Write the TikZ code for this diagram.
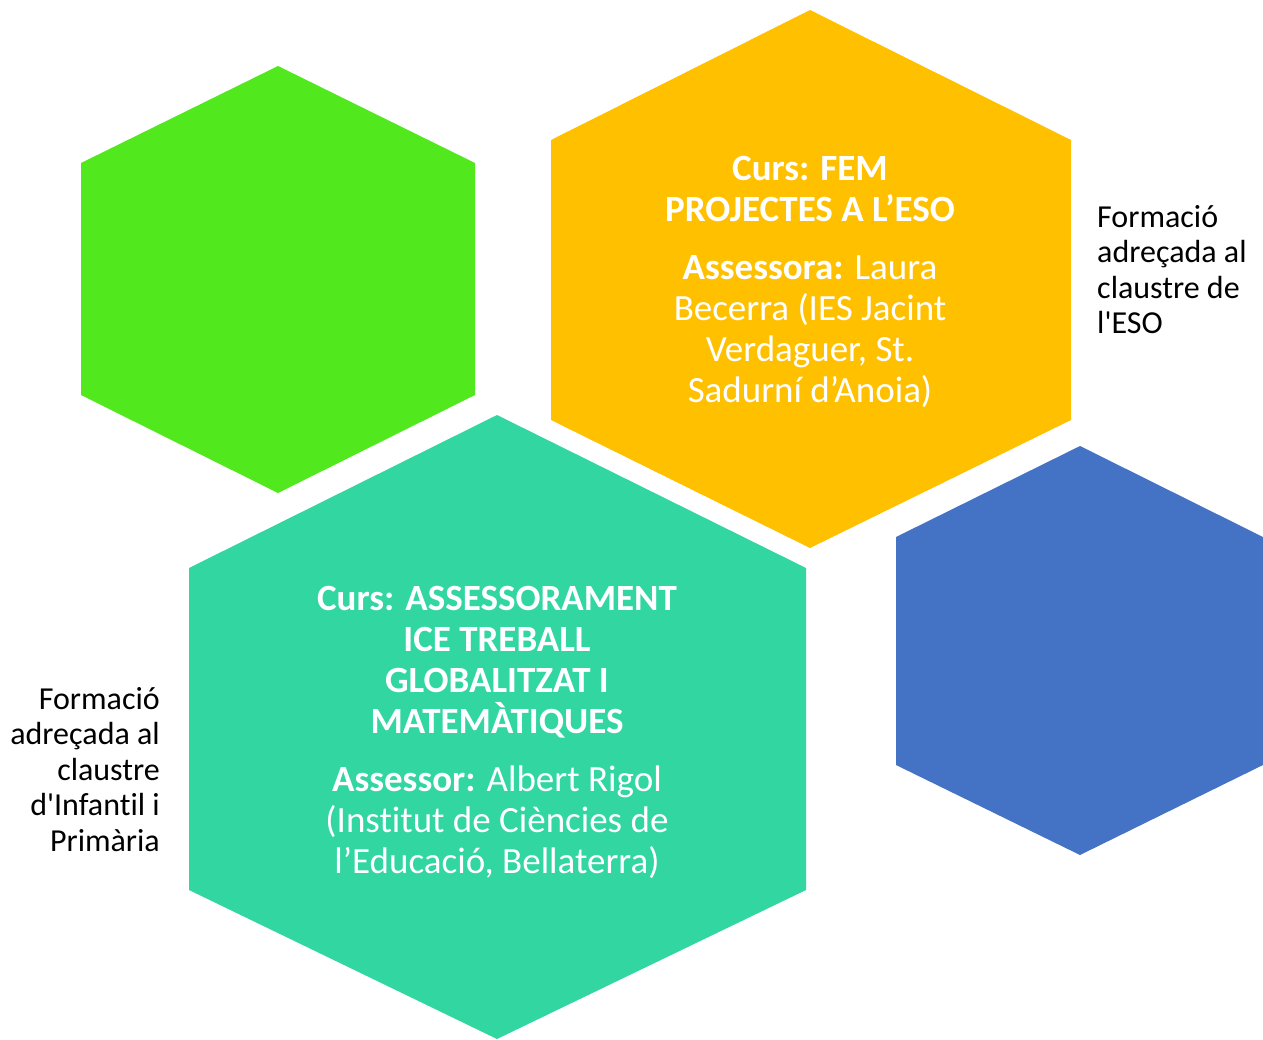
\documentclass[tikz,border=0pt]{standalone}
\usepackage{fontspec}
\setmainfont{Carlito}[Ligatures={TeXOff,NoCommon}]
\definecolor{hexgreen}{RGB}{82,232,30}
\definecolor{hexorange}{RGB}{255,192,0}
\definecolor{hexteal}{RGB}{49,214,160}
\definecolor{hexblue}{RGB}{68,114,196}
\tikzset{
  hextext/.style={text=white, align=center, inner sep=0pt, font=\fontsize{37}{41}\selectfont},
  sidetext/.style={text=black, inner sep=0pt, font=\fontsize{32}{35.5}\selectfont},
}
\begin{document}
\begin{tikzpicture}[x=1pt,y=-1pt]
\useasboundingbox (0,0) rectangle (1263,1039);
% hexagons
\fill[hexgreen] (278,66) -- (475,163) -- (475,395) -- (278,493) -- (81,395) -- (81,163) -- cycle;
\fill[hexorange] (810,10) -- (1071,140) -- (1071,420) -- (810,548) -- (551,420) -- (551,140) -- cycle;
\fill[hexblue] (1080,446) -- (1263,537) -- (1263,765) -- (1080,855) -- (896,765) -- (896,537) -- cycle;
\fill[hexteal] (497,415) -- (806,568) -- (806,890) -- (497,1039) -- (189,890) -- (189,568) -- cycle;
% texts (base anchor = baseline of the last line)
\node[hextext, anchor=base] (orangetext) at (810,402)
  {\textbf{Curs: FEM}\\\textbf{PROJECTES A L’ESO}\\[17pt]\textbf{Assessora:} Laura\\Becerra (IES Jacint\\Verdaguer, St.\\Sadurní d’Anoia)};
\node[hextext, anchor=base] (tealtext) at (497,873)
  {\textbf{Curs: ASSESSORAMENT}\\\textbf{ICE TREBALL}\\\textbf{GLOBALITZAT I}\\\textbf{MATEMÀTIQUES}\\[17pt]\textbf{Assessor:} Albert Rigol\\(Institut de Ciències de\\l’Educació, Bellaterra)};
\node[sidetext, align=left, anchor=base west] (righttext) at (1097,333.5)
  {Formació\\adreçada al\\claustre de\\l'ESO};
\node[sidetext, align=right, anchor=base east] (lefttext) at (160,851)
  {Formació\\adreçada al\\claustre\\d'Infantil i\\Primària};
\end{tikzpicture}
\end{document}
